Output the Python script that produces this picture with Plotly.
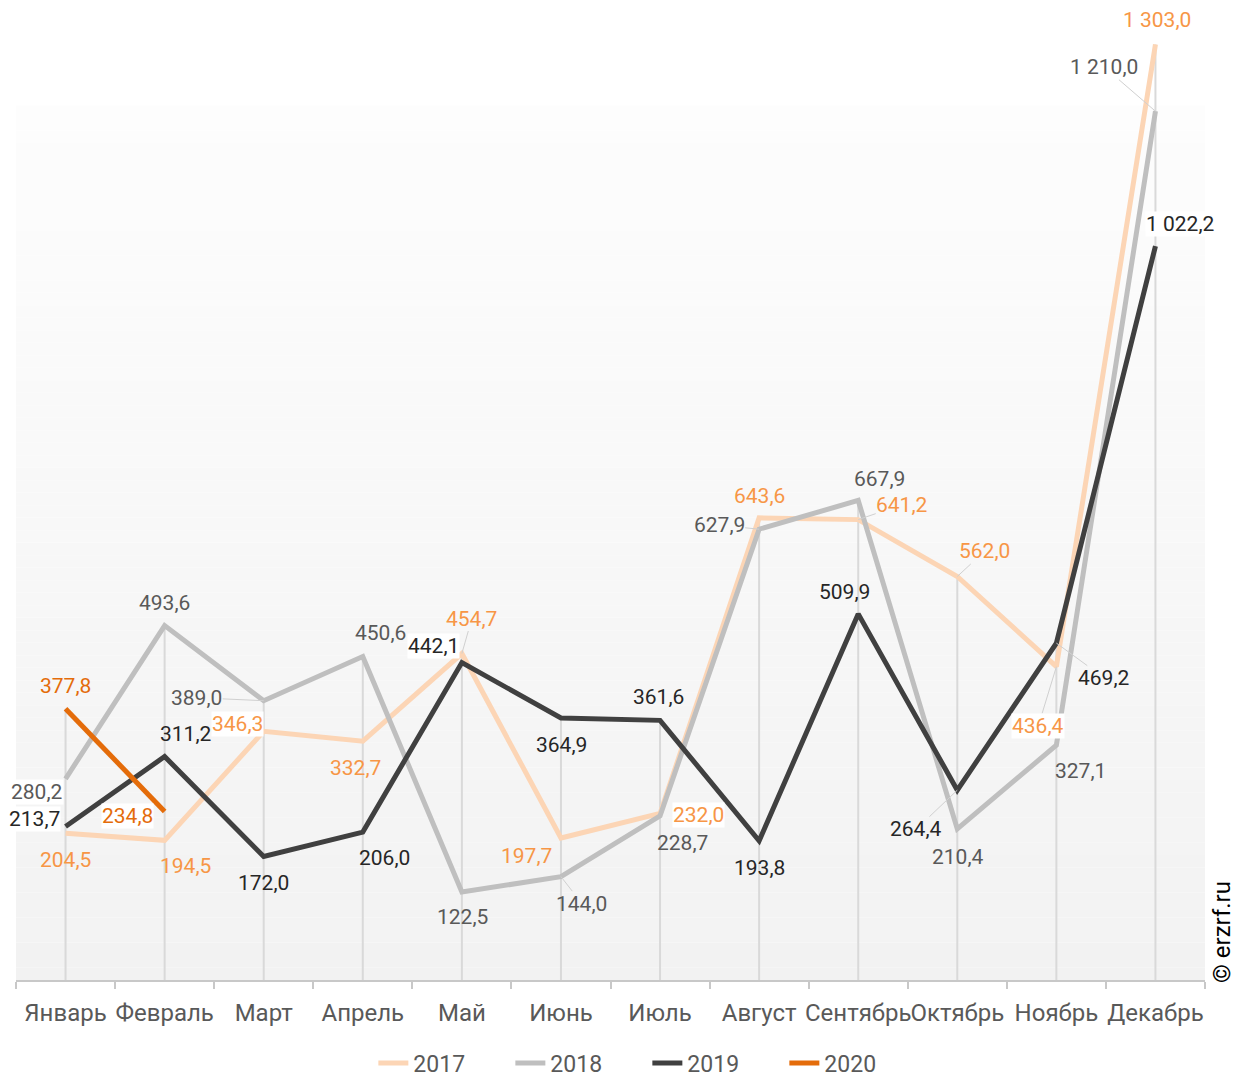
import plotly.graph_objects as go

months = ["Январь", "Февраль", "Март", "Апрель", "Май", "Июнь", "Июль",
          "Август", "Сентябрь", "Октябрь", "Ноябрь", "Декабрь"]

v2017 = [204.5, 194.5, 346.3, 332.7, 454.7, 197.7, 232.0, 643.6, 641.2, 562.0, 436.4, 1303.0]
v2018 = [280.2, 493.6, 389.0, 450.6, 122.5, 144.0, 228.7, 627.9, 667.9, 210.4, 327.1, 1210.0]
v2019 = [213.7, 311.2, 172.0, 206.0, 442.1, 364.9, 361.6, 193.8, 509.9, 264.4, 469.2, 1022.2]
v2020 = [377.8, 234.8]

series = [
    ("2017", v2017, "#FCD5B5", "#F79646"),
    ("2018", v2018, "#BFBFBF", "#595959"),
    ("2019", v2019, "#404040", "#262626"),
    ("2020", v2020, "#E46C0A", "#E46C0A"),
]

# label placement: pixel offset of each label from its point, leader flag, white box flag
label_style = {
    "2017": [(0, 27, 0, 0), (21, 26, 0, 0), (-26, -7, 0, 1), (-7, 27, 0, 0),
             (10, -35, 1, 0), (-34, 18, 0, 0), (38, 2, 0, 1), (0, -22, 0, 0),
             (44, -15, 1, 0), (27, -25, 1, 0), (-18, 59, 1, 1), (2, -24, 0, 0)],
    "2018": [(-29, 13, 0, 1), (0, -23, 0, 0), (-67, -3, 1, 0), (18, -23, 0, 0),
             (1, 25, 0, 0), (21, 27, 1, 0), (22, 27, 0, 0), (-40, -4, 1, 0),
             (21, -21, 0, 0), (1, 28, 0, 0), (24, 26, 0, 0), (-51, -44, 1, 0)],
    "2019": [(-31, -8, 0, 1), (21, -23, 0, 0), (0, 26, 0, 0), (22, 26, 0, 0),
             (-28, -17, 0, 1), (1, 27, 0, 0), (-2, -23, 0, 0), (0, 27, 0, 0),
             (-14, -22, 0, 0), (-41, 39, 1, 0), (48, 35, 1, 0), (25, -22, 0, 1)],
    "2020": [(0, -23, 0, 0), (-37, 5, 0, 1)],
}

FONT = "Roboto, Arial, sans-serif"


def fmt(v):
    return f"{v:,.1f}".replace(",", " ").replace(".", ",")


fig = go.Figure()

# vertical drop lines from the highest value of each month down to the axis
drop_x, drop_y = [], []
for i, m in enumerate(months):
    vals = [vals[i] for _, vals, _, _ in series if i < len(vals)]
    drop_x += [m, m, None]
    drop_y += [max(vals), 0, None]
fig.add_trace(go.Scatter(x=drop_x, y=drop_y, mode="lines",
                         line=dict(color="#D9D9D9", width=2),
                         showlegend=False, hoverinfo="skip"))

for name, vals, lc, tc in series:
    fig.add_trace(go.Scatter(x=months[:len(vals)], y=vals, mode="lines", name=name,
                             line=dict(color=lc, width=5)))

annotations = []
for name, vals, lc, tc in series:
    for i, v in enumerate(vals):
        dx, dy, leader, box = label_style[name][i]
        annotations.append(dict(
            x=months[i], y=v, xref="x", yref="y", text=fmt(v),
            showarrow=True, ax=dx, ay=dy, arrowhead=0, arrowwidth=1, standoff=0,
            arrowcolor="#D0D0D0" if leader else "rgba(0,0,0,0)",
            bgcolor="#FFFFFF" if box else "rgba(0,0,0,0)", borderpad=0,
            font=dict(family=FONT, size=21, color=tc),
        ))

H_PLOT = 960
W_PLOT = 1189
annotations.append(dict(
    x=(1222 - 16) / W_PLOT, y=(980 - 932) / H_PLOT, xref="paper", yref="paper",
    xanchor="center", yanchor="middle",
    text="© erzrf.ru", textangle=-90, showarrow=False,
    font=dict(family=FONT, size=24, color="#000000"),
))

# soft vertical gradient behind the plot
shapes = []
n_bands = 70
g_top = 1218.0
for k in range(n_bands):
    y0 = g_top * k / n_bands
    y1 = g_top * (k + 1) / n_bands
    t = (k + 0.5) / n_bands
    c = round(242 + (253 - 242) * t)
    shapes.append(dict(type="rect", xref="paper", yref="y", x0=0, x1=1, y0=y0, y1=y1,
                       fillcolor=f"rgb({c},{c},{c})", line=dict(width=0), layer="below"))

fig.update_layout(
    width=1242, height=1077,
    margin=dict(l=16, r=37, t=20, b=97),
    paper_bgcolor="white", plot_bgcolor="white",
    font=dict(family=FONT, size=20, color="#595959"),
    shapes=shapes,
    annotations=annotations,
    legend=dict(orientation="h", x=0.531, xanchor="center",
                yref="container", y=(1077 - 1063) / 1077, yanchor="middle",
                font=dict(family=FONT, size=23, color="#595959"),
                traceorder="normal", entrywidth=92, tracegroupgap=0),
    xaxis=dict(type="category", range=[-0.5, 11.5], showgrid=False, automargin=False,
               showline=True, linecolor="#C8C8C8", linewidth=2,
               ticks="outside", tickson="boundaries", ticklen=7, tickwidth=2,
               tickcolor="#C8C8C8", ticklabelstandoff=10, tickangle=0,
               tickfont=dict(family=FONT, size=24, color="#595959"),
               fixedrange=True),
    yaxis=dict(range=[0, H_PLOT / 0.718], visible=False, showgrid=False,
               automargin=False, fixedrange=True),
)

fig.write_html("out.html")
